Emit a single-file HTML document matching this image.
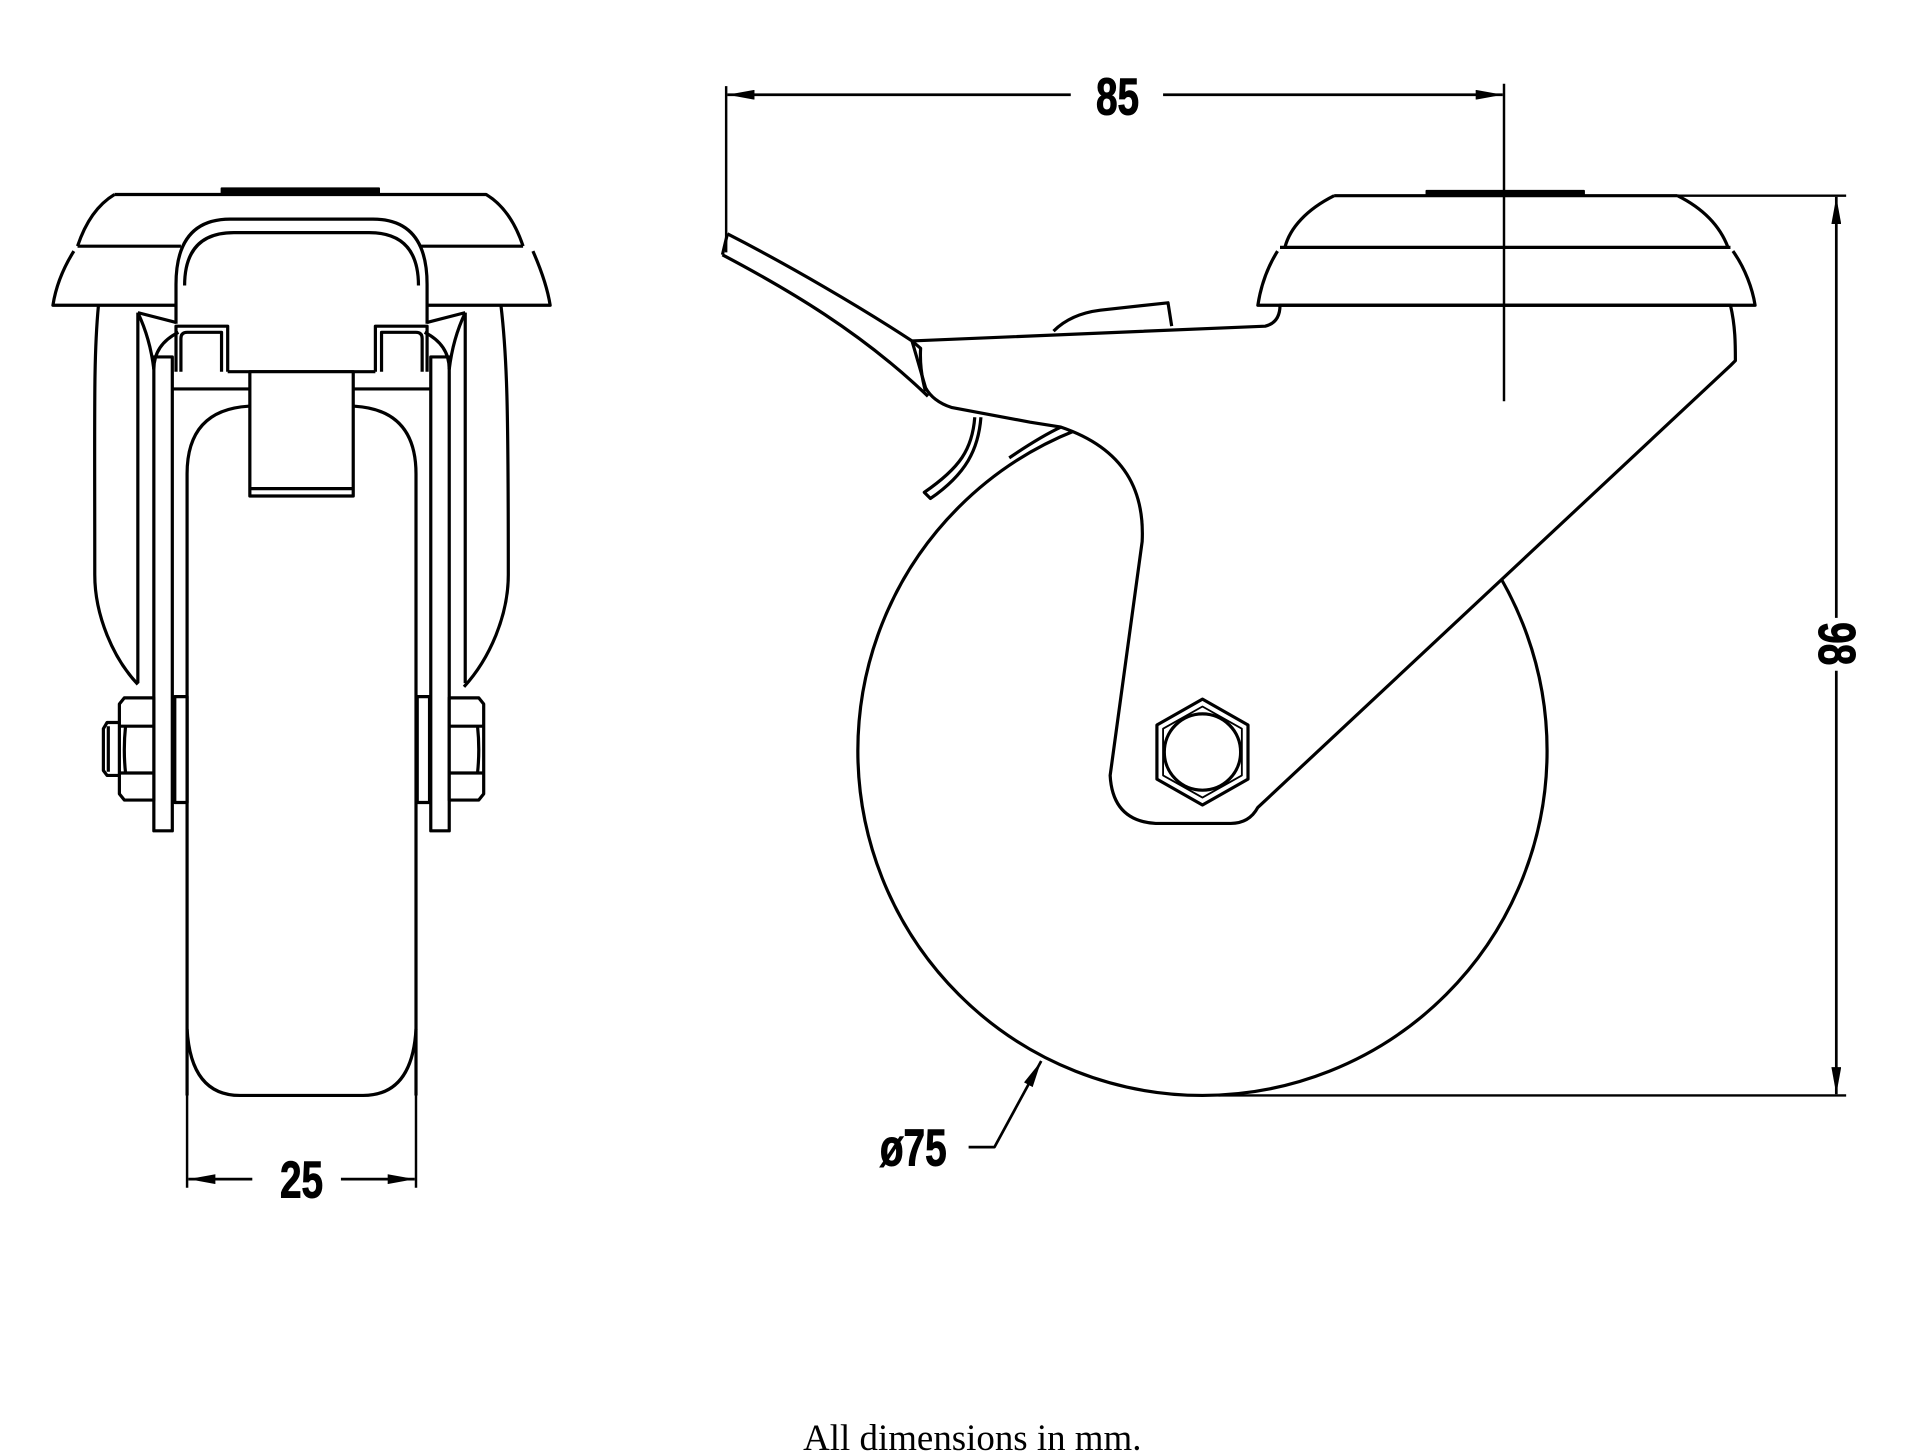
<!DOCTYPE html>
<html><head><meta charset="utf-8"><style>
html,body{margin:0;padding:0;background:#fff;}
svg{display:block;}
.d{font-family:"Liberation Sans",sans-serif;font-weight:bold;font-size:42px;stroke:#000;stroke-width:0.8px;}
</style></head><body>
<svg width="1920" height="1453" viewBox="0 0 1560 1180.5" preserveAspectRatio="none" xmlns="http://www.w3.org/2000/svg">
<defs>
<marker id="a" viewBox="0 0 22 8" refX="22" refY="4" markerWidth="22" markerHeight="8" markerUnits="userSpaceOnUse" orient="auto"><path d="M0,0 L22,4 L0,8 z" fill="#000"/></marker>
</defs>
<rect width="1560" height="1181" fill="#fff"/>
<g fill="none" stroke="#000" stroke-width="2.6" stroke-linejoin="round">
<!-- LEFT VIEW -->
<path d="M80,248 C76,290 77,330 77,467 C77,500 92,535 112,556"/>
<path d="M407,248 C412,290 413,330 413,467 C413,500 398,535 377,558"/>
<rect x="180" y="153" width="128" height="5" fill="#000" stroke-width="1.5"/>
<path d="M93,158 L395,158 Q415,170 425,200 M93,158 Q73,170 63,200"/>
<path d="M63,200 L147,200 M340,200 L425,200"/>
<path d="M60,204 C50,220 45,235 43,248 L447,248 C445,235 440,220 433,204"/>
<path d="M143,263 L143,231 Q143,178 187,178 L303,178 Q347,178 347,231 L347,263" fill="#fff"/>
<path d="M150,232 Q150,189 190,189 L300,189 Q340,189 340,232"/>
<path d="M112,254 L112,555 M378,254 L378,555"/>
<path d="M112,254 L143,262 M378,254 L347,262"/>
<path d="M112,254 Q122,275 125,300 M378,254 Q368,275 365,300"/>
<path d="M125,300 Q125,280 145,270 M365,300 Q365,280 345,270"/>
<rect x="125" y="290" width="15" height="385"/>
<rect x="350" y="290" width="15" height="385"/>
<path d="M143,302 L143,265 L185,265 L185,302 M147,302 L147,275 Q147,270 152,270 L180,270 L180,302"/>
<path d="M347,302 L347,265 L305,265 L305,302 M343,302 L343,275 Q343,270 338,270 L310,270 L310,302"/>
<path d="M185,302 L305,302 M140,316 L203,316 M287,316 L350,316"/>
<path d="M152,890 L152,385 Q152,333 202,330 M288,330 Q338,333 338,385 L338,890" fill="#fff"/>
<path d="M152,836 Q155,890 195,890 L295,890 Q335,890 338,836"/>
<rect x="203" y="302" width="84" height="101" fill="#fff"/>
<path d="M203,397 L287,397"/>
<rect x="142" y="566" width="10" height="86" fill="#fff"/>
<rect x="339" y="566" width="10" height="86" fill="#fff"/>
<path d="M101,567 L125,567 L125,650 L101,650 L97,645 L97,572 Z" fill="#fff"/>
<path d="M97,590 L125,590 M97,628 L125,628 M102,590 Q100,609 102,628"/>
<path d="M365,567 L389,567 L393,572 L393,645 L389,650 L365,650 Z" fill="#fff"/>
<path d="M365,590 L393,590 M365,628 L393,628 M388,590 Q390,609 388,628"/>
<path d="M97,587 L87,587 L84,592 L84,626 L87,630 L97,630 M88,590 L88,627"/>
<path d="M152,845 L152,965 M338,845 L338,965" stroke-width="2"/>
<path d="M205,958 L153,958" stroke-width="2.2" marker-end="url(#a)"/>
<path d="M277,958 L337,958" stroke-width="2.2" marker-end="url(#a)"/>

<!-- RIGHT VIEW -->
<circle cx="977" cy="610" r="280"/>
<path d="M741,277 L1028,265 Q1040,262 1040,248 L1406,248 C1410,265 1410,280 1410,293 L1406,297 L1022,656 Q1015,669 1000,669 L939,669 Q904,667 902,630 L928,440 C930,400 915,365 862,347 L837,343 L773,331 Q758,326 752,315 Z" fill="#fff"/>
<path d="M752,318 Q747,300 748,283 L741,277"/>
<path d="M856,269 Q870,255 894,252 L949,246 L952,265"/>
<path d="M862,347 Q845,355 820,372"/>
<path d="M591,190 C640,215 700,250 741,277 M587,207 C640,235 700,270 754,322" />
<path d="M591,190 L587,207"/>
<path d="M792,339 C790,365 780,380 751,400 L756,405 C785,385 795,365 797,339"/>
<rect x="1159" y="155" width="128" height="4" fill="#000" stroke-width="1.5"/>
<path d="M1084,159 L1363,159 M1084,159 C1062,170 1048,185 1044,201 M1363,159 C1385,170 1398,185 1404,201"/>
<path d="M1040,201 L1406,201"/>
<path d="M1038,204 C1028,220 1024,235 1022,248 L1426,248 C1424,235 1418,218 1408,204"/>
<path d="M977,568 L1014,589 L1014,633 L977,654 L940,633 L940,589 Z" fill="#fff"/>
<path d="M977,574 L1009,592 L1009,630 L977,648 L945,630 L945,592 Z" stroke-width="1.5"/>
<circle cx="977" cy="611" r="31"/>
<path d="M590,70 L590,205 M1222,68 L1222,326 M1363,159 L1500,159 M990,890 L1500,890" stroke-width="2"/>
<path d="M870,77 L591,77" stroke-width="2.2" marker-end="url(#a)"/>
<path d="M945,77 L1221,77" stroke-width="2.2" marker-end="url(#a)"/>
<path d="M1492,502 L1492,160" stroke-width="2.2" marker-end="url(#a)"/>
<path d="M1492,545 L1492,889" stroke-width="2.2" marker-end="url(#a)"/>
<path d="M787,932 L808,932 L846,862" stroke-width="2.2" marker-end="url(#a)"/>
</g>
<g fill="#000">
<text class="d" x="0" y="0" transform="translate(245,973) scale(0.75,1)" text-anchor="middle">25</text>
<text class="d" x="0" y="0" transform="translate(908,93) scale(0.75,1)" text-anchor="middle">85</text>
<text class="d" x="0" y="0" transform="translate(1478,523) rotate(90) scale(0.75,1)" text-anchor="middle">98</text>
<text class="d" x="0" y="0" transform="translate(742,947) scale(0.75,1)" text-anchor="middle">ø75</text>
<text x="790" y="1178" font-family="'Liberation Serif',serif" font-size="30" text-anchor="middle">All dimensions in mm.</text>
</g>
</svg>
</body></html>
